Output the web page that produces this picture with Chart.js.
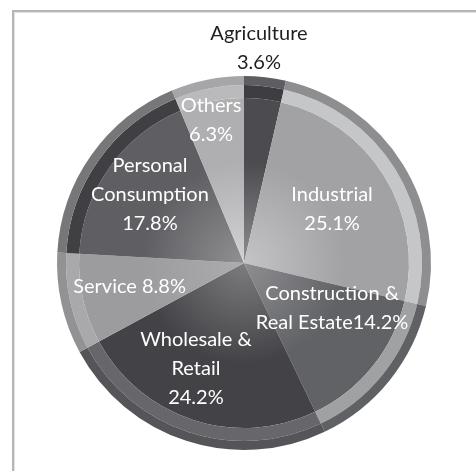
<!DOCTYPE html>
<html>
<head>
<meta charset="utf-8">
<script src="https://cdn.jsdelivr.net/npm/chart.js@4"></script>
<style>
  html, body { margin: 0; padding: 0; background: #ffffff; }
  #wrap { position: relative; width: 476px; height: 471px; overflow: hidden; }
  #frame {
    position: absolute; left: 12px; top: 10px; width: 480px; height: 480px;
    border-top: 2px solid #b6b6b6; border-left: 2px solid #b6b6b6;
    box-shadow: inset 1px 1px 0 #e2e2e2;
  }
  canvas { position: absolute; left: 0; top: 0; }
</style>
</head>
<body>
<div id="wrap">
  <div id="frame"></div>
  <canvas id="chart" width="476" height="471"></canvas>
</div>
<script>
// Sector shares of the total (percent), clockwise from 12 o'clock
const categories = ['Agriculture', 'Industrial', 'Construction & Real Estate', 'Wholesale & Retail', 'Service', 'Personal Consumption', 'Others'];
const shares = [3.6, 25.1, 14.2, 24.2, 8.8, 17.8, 6.3];

// Label lines drawn on each slice
const labelLines = [
  ['Agriculture', '3.6%'],
  ['Industrial', '25.1%'],
  ['Construction &', 'Real Estate14.2%'],
  ['Wholesale &', 'Retail', '24.2%'],
  ['Service 8.8%'],
  ['Personal', 'Consumption', '17.8%'],
  ['Others', '6.3%']
];

// Label block centres, as fractions of the pie radius from its centre
const labelOffsets = [
  [0.080, -1.150],
  [0.471, -0.291],
  [0.471, 0.241],
  [-0.257, 0.567],
  [-0.612, 0.128],
  [-0.503, -0.364],
  [-0.176, -0.765]
];
const labelColors = ['#1e1e1e', '#fff', '#fff', '#fff', '#fff', '#fff', '#fff'];

// Grey shading: slice body (centre -> edge), inner band, outer rim
const bodyInner = ['#8e8e91', '#c4c4c6', '#8e8e91', '#7c7c7f', '#acacae', '#909093', '#d2d2d4'];
const bodyOuter = ['#4b4b50', '#a2a2a5', '#616266', '#434347', '#9c9c9f', '#5f5f63', '#afafb1'];
const bandColors = ['#3e3e42', '#c5c6c8', '#a0a1a3', '#67676b', '#a9a9ab', '#3f3f44', '#bababc'];
const rimColors = ['#5e5e62', '#8e8e91', '#606165', '#555559', '#929295', '#77777a', '#a6a6a8'];

function bodyGradient(ctx) {
  const chart = ctx.chart;
  const area = chart.chartArea;
  const i = ctx.dataIndex;
  if (!area) return bodyOuter[i];
  const cx = (area.left + area.right) / 2;
  const cy = (area.top + area.bottom) / 2;
  const r = Math.min(area.right - area.left, area.bottom - area.top) / 2;
  const g = chart.ctx.createRadialGradient(cx, cy, 0, cx, cy, r * 0.9);
  g.addColorStop(0, bodyInner[i]);
  g.addColorStop(0.6, bodyOuter[i]);
  g.addColorStop(1, bodyOuter[i]);
  return g;
}

const sliceLabels = {
  id: 'sliceLabels',
  afterDatasetsDraw(chart) {
    const outer = chart.getDatasetMeta(0).data[0];
    if (!outer) return;
    const cx = outer.x, cy = outer.y, R = outer.outerRadius;
    const ctx = chart.ctx;
    const lh = 29;
    ctx.save();
    ctx.font = '20px Lato, "Open Sans", sans-serif';
    ctx.textAlign = 'center';
    ctx.textBaseline = 'middle';
    labelLines.forEach((lines, i) => {
      const bx = cx + labelOffsets[i][0] * R;
      const by = cy + labelOffsets[i][1] * R;
      ctx.fillStyle = labelColors[i];
      lines.forEach((t, k) => {
        ctx.fillText(t, bx, by + (k - (lines.length - 1) / 2) * lh);
      });
    });
    ctx.restore();
  }
};

new Chart(document.getElementById('chart'), {
  type: 'pie',
  data: {
    labels: categories,
    datasets: [
      { data: shares, backgroundColor: rimColors, borderWidth: 0, weight: 9 },
      { data: shares, backgroundColor: bandColors, borderWidth: 0, weight: 13 },
      { data: shares, backgroundColor: bodyGradient, borderWidth: 0, weight: 165 }
    ]
  },
  options: {
    responsive: false,
    animation: false,
    events: [],
    hoverOffset: 0,
    layout: { padding: { left: 57, right: 45, top: 76, bottom: 21 } },
    plugins: {
      legend: { display: false },
      tooltip: { enabled: false }
    }
  },
  plugins: [sliceLabels]
});
</script>
</body>
</html>
